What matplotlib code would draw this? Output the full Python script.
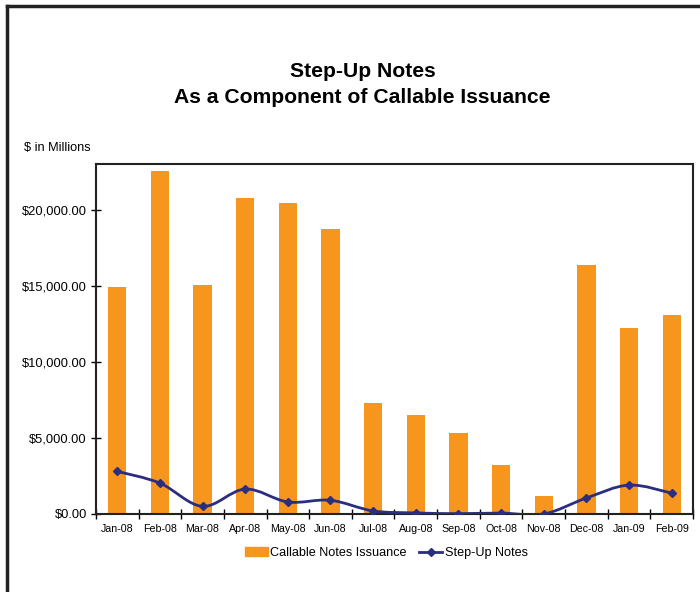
import numpy as np
import matplotlib.pyplot as plt
from matplotlib.path import Path
from matplotlib.patches import PathPatch, Rectangle
from matplotlib.lines import Line2D
from matplotlib.ticker import FuncFormatter

plt.rcParams['font.family'] = ['Liberation Sans', 'DejaVu Sans']

months = ["Jan-08", "Feb-08", "Mar-08", "Apr-08", "May-08", "Jun-08", "Jul-08",
          "Aug-08", "Sep-08", "Oct-08", "Nov-08", "Dec-08", "Jan-09", "Feb-09"]
callable_notes = [14900, 22570, 15030, 20740, 20410, 18700, 7280,
                  6500, 5320, 3220, 1180, 16340, 12200, 13060]
step_up = [2800, 2030, 500, 1640, 790, 900, 200,
           70, 20, 60, 0, 1050, 1900, 1370]

orange = "#F7961E"
navy = "#2B2D7E"

fig = plt.figure(figsize=(7, 5.92), dpi=100)
ax = fig.add_axes([0.137, 0.1318, 0.853, 0.5912])

x = np.arange(len(months))
ax.bar(x, callable_notes, width=0.43, color=orange, zorder=2)

# smoothed line (Catmull-Rom as cubic Bezier segments, like Excel)
pts = np.column_stack([x, step_up]).astype(float)
verts = [pts[0]]
codes = [Path.MOVETO]
n = len(pts)
for i in range(n - 1):
    p0 = pts[i - 1] if i > 0 else pts[i]
    p1 = pts[i]
    p2 = pts[i + 1]
    p3 = pts[i + 2] if i + 2 < n else pts[i + 1]
    c1 = p1 + (p2 - p0) / 6.0
    c2 = p2 - (p3 - p1) / 6.0
    verts += [c1, c2, p2]
    codes += [Path.CURVE4] * 3
ax.add_patch(PathPatch(Path(verts, codes), facecolor='none', edgecolor=navy,
                       lw=2, zorder=3))
ax.plot(x, step_up, linestyle='none', marker='D', markersize=4.5,
        color=navy, zorder=4)

ax.set_xlim(-0.5, len(months) - 0.5)
ax.set_ylim(0, 23000)
ax.set_yticks([0, 5000, 10000, 15000, 20000])
ax.yaxis.set_major_formatter(FuncFormatter(lambda v, p: "${:,.2f}".format(v)))
ax.set_xticks(x)
ax.set_xticklabels(months, fontsize=7.7)
ax.set_xticks(np.arange(-0.5, len(months)), minor=True)
ax.tick_params(axis='x', which='major', length=0, pad=7)
ax.tick_params(axis='x', which='minor', direction='inout', length=7, width=1)
ax.tick_params(axis='y', direction='inout', length=7, width=1, labelsize=9.3, pad=3)
for s in ax.spines.values():
    s.set_linewidth(1.5)
    s.set_color("#222222")

fig.text(0.518, 0.879, "Step-Up Notes", ha='center', va='center',
         fontsize=15.2, fontweight='bold')
fig.text(0.518, 0.836, "As a Component of Callable Issuance", ha='center',
         va='center', fontsize=15.2, fontweight='bold')
fig.text(0.034, 0.75, "$ in Millions", ha='left', va='center', fontsize=9.2)

handles = [Rectangle((0, 0), 1, 1, color=orange),
           Line2D([], [], color=navy, lw=2, marker='D', markersize=4)]
fig.legend(handles, ["Callable Notes Issuance", "Step-Up Notes"],
           loc='center', bbox_to_anchor=(0.552, 0.066), ncol=2, frameon=False,
           fontsize=9.1, handlelength=1.8, handletextpad=0.2, columnspacing=1.0)

# figure border (left and top)
fig.add_artist(Line2D([0.01, 0.01], [0, 0.99], transform=fig.transFigure,
                      color="#222222", lw=2.5))
fig.add_artist(Line2D([0.01, 1], [0.99, 0.99], transform=fig.transFigure,
                      color="#222222", lw=2.5))

fig.savefig("out.png", dpi=100)
